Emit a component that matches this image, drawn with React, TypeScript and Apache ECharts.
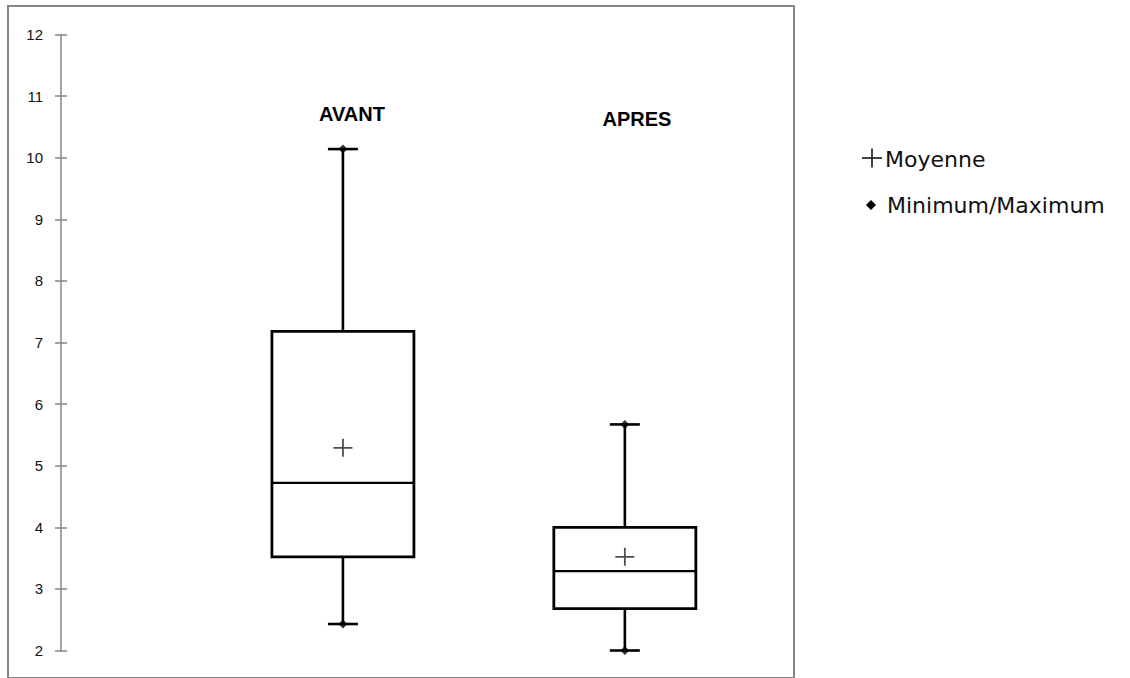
import React, { useEffect, useRef } from "react";
import * as echarts from "echarts";

const categories = ["AVANT", "APRES"];
const positions = [1, 2];
const minValues = [2.43, 2.0];
const q1Values = [3.52, 2.68];
const medianValues = [4.72, 3.29];
const q3Values = [7.18, 4.0];
const maxValues = [10.14, 5.67];
const meanValues = [5.29, 3.52];
const yTicks = { min: 2, max: 12, interval: 1 };
const legendNames = ["Moyenne", "Minimum/Maximum"];

export default function App() {
  const ref = useRef<HTMLDivElement>(null);

  useEffect(() => {
    document.body.style.margin = "0";
    const chart = echarts.init(ref.current!, null, { renderer: "svg" });

    const boxData = positions.map((p, i) => [
      p,
      minValues[i],
      q1Values[i],
      medianValues[i],
      q3Values[i],
      maxValues[i],
    ]);
    const extremes: number[][] = [];
    positions.forEach((p, i) => {
      extremes.push([p, minValues[i]]);
      extremes.push([p, maxValues[i]]);
    });
    const means = positions.map((p, i) => [p, meanValues[i]]);

    const boxW = 142;
    const capW = 30;
    const stroke = "#000";

    const axisBase = {
      type: "value",
      min: yTicks.min,
      max: yTicks.max,
      interval: yTicks.interval,
      splitLine: { show: false },
    };

    chart.setOption({
      animation: false,
      backgroundColor: "#fff",
      grid: { left: 61, top: 34.5, width: 733, height: 616 },
      xAxis: { type: "value", min: 0, max: 2.6, show: false },
      yAxis: [
        {
          ...axisBase,
          axisLine: { show: true, lineStyle: { color: "#868686", width: 1.5 } },
          axisTick: { show: true, length: 6, lineStyle: { color: "#868686", width: 1.5 } },
          axisLabel: {
            margin: 18,
            color: "#111",
            fontSize: 15,
            fontFamily: "Liberation Sans, Arial, sans-serif",
          },
        },
        {
          ...axisBase,
          position: "left",
          axisLine: { show: false },
          axisTick: { show: true, inside: true, length: 6, lineStyle: { color: "#868686", width: 1.5 } },
          axisLabel: { show: false },
        },
      ],
      series: [
        {
          type: "custom",
          z: 2,
          data: boxData,
          encode: { x: 0, y: [1, 2, 3, 4, 5] },
          renderItem: (params: any, api: any) => {
            const x = api.value(0);
            const pMin = api.coord([x, api.value(1)]);
            const pQ1 = api.coord([x, api.value(2)]);
            const pMed = api.coord([x, api.value(3)]);
            const pQ3 = api.coord([x, api.value(4)]);
            const pMax = api.coord([x, api.value(5)]);
            const cx = pMin[0];
            const ls = { stroke, lineWidth: 2.6 };
            return {
              type: "group",
              children: [
                { type: "line", shape: { x1: cx, y1: pMax[1], x2: cx, y2: pQ3[1] }, style: ls },
                { type: "line", shape: { x1: cx, y1: pQ1[1], x2: cx, y2: pMin[1] }, style: ls },
                { type: "line", shape: { x1: cx - capW / 2, y1: pMax[1], x2: cx + capW / 2, y2: pMax[1] }, style: ls },
                { type: "line", shape: { x1: cx - capW / 2, y1: pMin[1], x2: cx + capW / 2, y2: pMin[1] }, style: ls },
                {
                  type: "rect",
                  shape: { x: cx - boxW / 2, y: pQ3[1], width: boxW, height: pQ1[1] - pQ3[1] },
                  style: { fill: "#fff", stroke, lineWidth: 2.8 },
                },
                {
                  type: "line",
                  shape: { x1: cx - boxW / 2, y1: pMed[1], x2: cx + boxW / 2, y2: pMed[1] },
                  style: { stroke, lineWidth: 2.2 },
                },
              ],
            };
          },
        },
        {
          name: legendNames[1],
          type: "scatter",
          z: 3,
          data: extremes,
          symbol: "diamond",
          symbolSize: 9,
          itemStyle: { color: "#000" },
        },
        {
          name: legendNames[0],
          type: "scatter",
          z: 3,
          data: means,
          symbol: "path://M0,8.1h19v1.8h-19z M8.6,0h1.8v18h-1.8z",
          symbolSize: [19, 18],
          itemStyle: { color: "#222" },
        },
      ],
      graphic: [
        {
          type: "rect",
          shape: { x: 8, y: 6, width: 786, height: 672 },
          style: { fill: "none", stroke: "#868686", lineWidth: 2 },
          silent: true,
        },
        {
          type: "text",
          x: 352,
          y: 114,
          style: {
            text: categories[0],
            fill: "#000",
            font: "bold 20px Liberation Sans, Arial, sans-serif",
            align: "center",
            verticalAlign: "middle",
          },
        },
        {
          type: "text",
          x: 637,
          y: 119,
          style: {
            text: categories[1],
            fill: "#000",
            font: "bold 20px Liberation Sans, Arial, sans-serif",
            align: "center",
            verticalAlign: "middle",
          },
        },
        { type: "line", shape: { x1: 862, y1: 158, x2: 882, y2: 158 }, style: { stroke: "#222", lineWidth: 1.7 } },
        { type: "line", shape: { x1: 872, y1: 148.5, x2: 872, y2: 167.5 }, style: { stroke: "#222", lineWidth: 1.7 } },
        {
          type: "polygon",
          shape: { points: [[871, 200], [876, 205], [871, 210], [866, 205]] },
          style: { fill: "#000" },
        },
        {
          type: "text",
          x: 885,
          y: 159,
          style: {
            text: legendNames[0],
            fill: "#111",
            font: "22px DejaVu Sans, sans-serif",
            align: "left",
            verticalAlign: "middle",
          },
        },
        {
          type: "text",
          x: 887,
          y: 205,
          style: {
            text: legendNames[1],
            fill: "#111",
            font: "22px DejaVu Sans, sans-serif",
            align: "left",
            verticalAlign: "middle",
          },
        },
      ],
    });

    return () => chart.dispose();
  }, []);

  return <div ref={ref} style={{ width: 1130, height: 678 }} />;
}
